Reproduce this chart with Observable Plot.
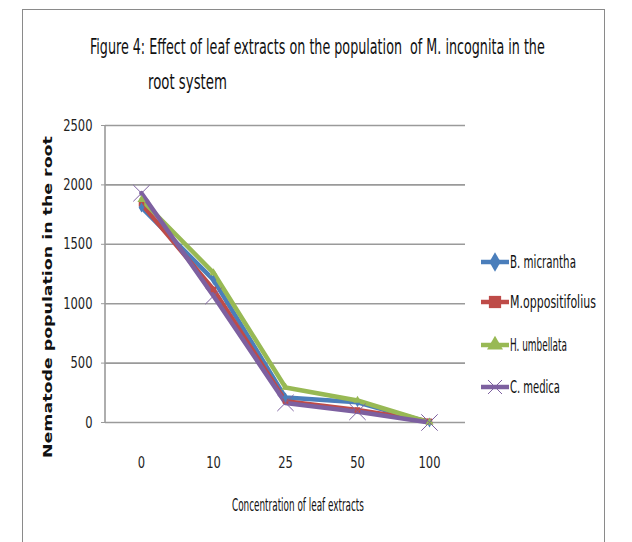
<!DOCTYPE html>
<html><head><meta charset="utf-8">
<script src="https://cdn.jsdelivr.net/npm/d3@7"></script>
<script src="https://cdn.jsdelivr.net/npm/@observablehq/plot@0.6"></script>
<style>body{margin:0;background:#fff}</style>
</head><body><div id="chart"></div>
<script>
const concentrations = ["0", "10", "25", "50", "100"];
const seriesNames = ["B. micrantha", "M.oppositifolius", "H. umbellata", "C. medica"];
const bMicrantha = [1810, 1200, 210, 170, 0];
const mOppositifolius = [1840, 1120, 180, 105, 10];
const hUmbellata = [1875, 1260, 295, 185, 0];
const cMedica = [1930, 1065, 165, 90, 0];
const yTicks = [0, 500, 1000, 1500, 2000, 2500];
const seriesColors = ["#4A7EBB", "#BE4B48", "#98B954", "#7D60A0"];
const seriesSymbols = ["diamond", "square", "triangle", "times"];
const titleLines = ["Figure 4: Effect of leaf extracts on the population  of M. incognita in the", "root system"];
const xLabel = "Concentration of leaf extracts";
const yLabel = "Nematode population in the root";

const allValues = [bMicrantha, mOppositifolius, hUmbellata, cMedica];
const data = [];
seriesNames.forEach((s, i) => concentrations.forEach((c, j) => data.push({series: s, conc: c, value: allValues[i][j]})));

const font = "'Liberation Sans Narrow', 'DejaVu Sans Condensed', 'Liberation Sans', sans-serif";

const chart = Plot.plot({
  width: 632, height: 542,
  marginLeft: 105, marginRight: 167, marginTop: 125, marginBottom: 120,
  style: {fontFamily: font, fontSize: "14px", color: "#222", background: "#fff"},
  x: {type: "point", domain: concentrations, padding: 0.5, label: null},
  y: {domain: [0, 2500], label: null},
  color: {domain: seriesNames, range: seriesColors},
  symbol: {domain: seriesNames, range: seriesSymbols},
  marks: [
    Plot.ruleY(yTicks, {stroke: "#9a9a9a", strokeWidth: 1.6}),
    Plot.axisY({ticks: yTicks, tickSize: 4, tickPadding: 9, stroke: "#9a9a9a", fontSize: 16, tickFormat: d => String(d)}),
    Plot.axisX({tickSize: 0, tickPadding: 34, fontSize: 16}),
    Plot.line(data, {x: "conc", y: "value", z: "series", stroke: "series", strokeWidth: 4.5}),
    Plot.dot(data.filter(d => d.series !== "C. medica"), {x: "conc", y: "value", symbol: "series", fill: "series", r: d => d.series === "M.oppositifolius" ? 7 : 6.5}),
    Plot.dot(data.filter(d => d.series === "C. medica"), {x: "conc", y: "value", symbol: "series", stroke: "series", strokeWidth: 1, r: 7.5})
  ]
});
document.getElementById("chart").append(chart);

const svg = d3.select(chart);
// narrow the tick labels like the reference's condensed font
svg.selectAll("g[aria-label='y-axis tick label'] text, g[aria-label='x-axis tick label'] text").each(function () {
  const w = this.getComputedTextLength();
  d3.select(this).attr("textLength", w * 0.8).attr("lengthAdjust", "spacingAndGlyphs");
});
// outer chart border
svg.append("rect").attr("x", 22.5).attr("y", 9.5).attr("width", 582).attr("height", 600)
  .attr("fill", "none").attr("stroke", "#8a8a8a").attr("stroke-width", 1);
// vertical axis line
svg.append("line").attr("x1", 105).attr("x2", 105).attr("y1", 125).attr("y2", 422)
  .attr("stroke", "#9a9a9a").attr("stroke-width", 1.6);

// text squeezed horizontally to a target width with a scale transform
const addText = (x, y, size, len, txt, extra = {}) => {
  const t = svg.append("text").attr("x", 0).attr("y", 0).attr("font-family", extra.family || font)
    .attr("font-size", size).attr("fill", "#111").attr("text-anchor", "start")
    .style("white-space", "pre").text(txt);
  if (extra.weight) t.attr("font-weight", extra.weight);
  const w = t.node().getComputedTextLength();
  const sx = len / w;
  t.attr("transform", `translate(${x},${y})${extra.rotate ? " rotate(-90)" : ""} scale(${sx},1)`);
  return t;
};
// title
addText(90, 54, 22, 455, titleLines[0]);
addText(148, 89, 22, 79, titleLines[1]);
// x label
addText(232, 511, 18, 132, xLabel);
// y label
addText(52, 458, 13, 322, yLabel, {family: "'DejaVu Sans', sans-serif", weight: "bold", rotate: true});

// legend
const legendY = [262, 302, 345, 387];
const legendW = [66, 86, 57, 50];
const d3Symbols = [d3.symbolDiamond, d3.symbolSquare, d3.symbolTriangle, d3.symbolTimes];
seriesNames.forEach((s, i) => {
  const g = svg.append("g").attr("transform", `translate(0,${legendY[i]})`);
  g.append("line").attr("x1", 481).attr("x2", 509).attr("stroke", seriesColors[i]).attr("stroke-width", 4.5);
  const sym = d3.symbol(d3Symbols[i], i === 1 ? 150 : (i === 3 ? 130 : 110))();
  if (i === 3) g.append("path").attr("d", sym).attr("transform", "translate(495,0)").attr("fill", "none").attr("stroke", seriesColors[i]).attr("stroke-width", 1);
  else g.append("path").attr("d", sym).attr("transform", "translate(495,0)").attr("fill", seriesColors[i]);
  addText(510, legendY[i] + 6, 17, legendW[i], s);
});
</script>
</body></html>
